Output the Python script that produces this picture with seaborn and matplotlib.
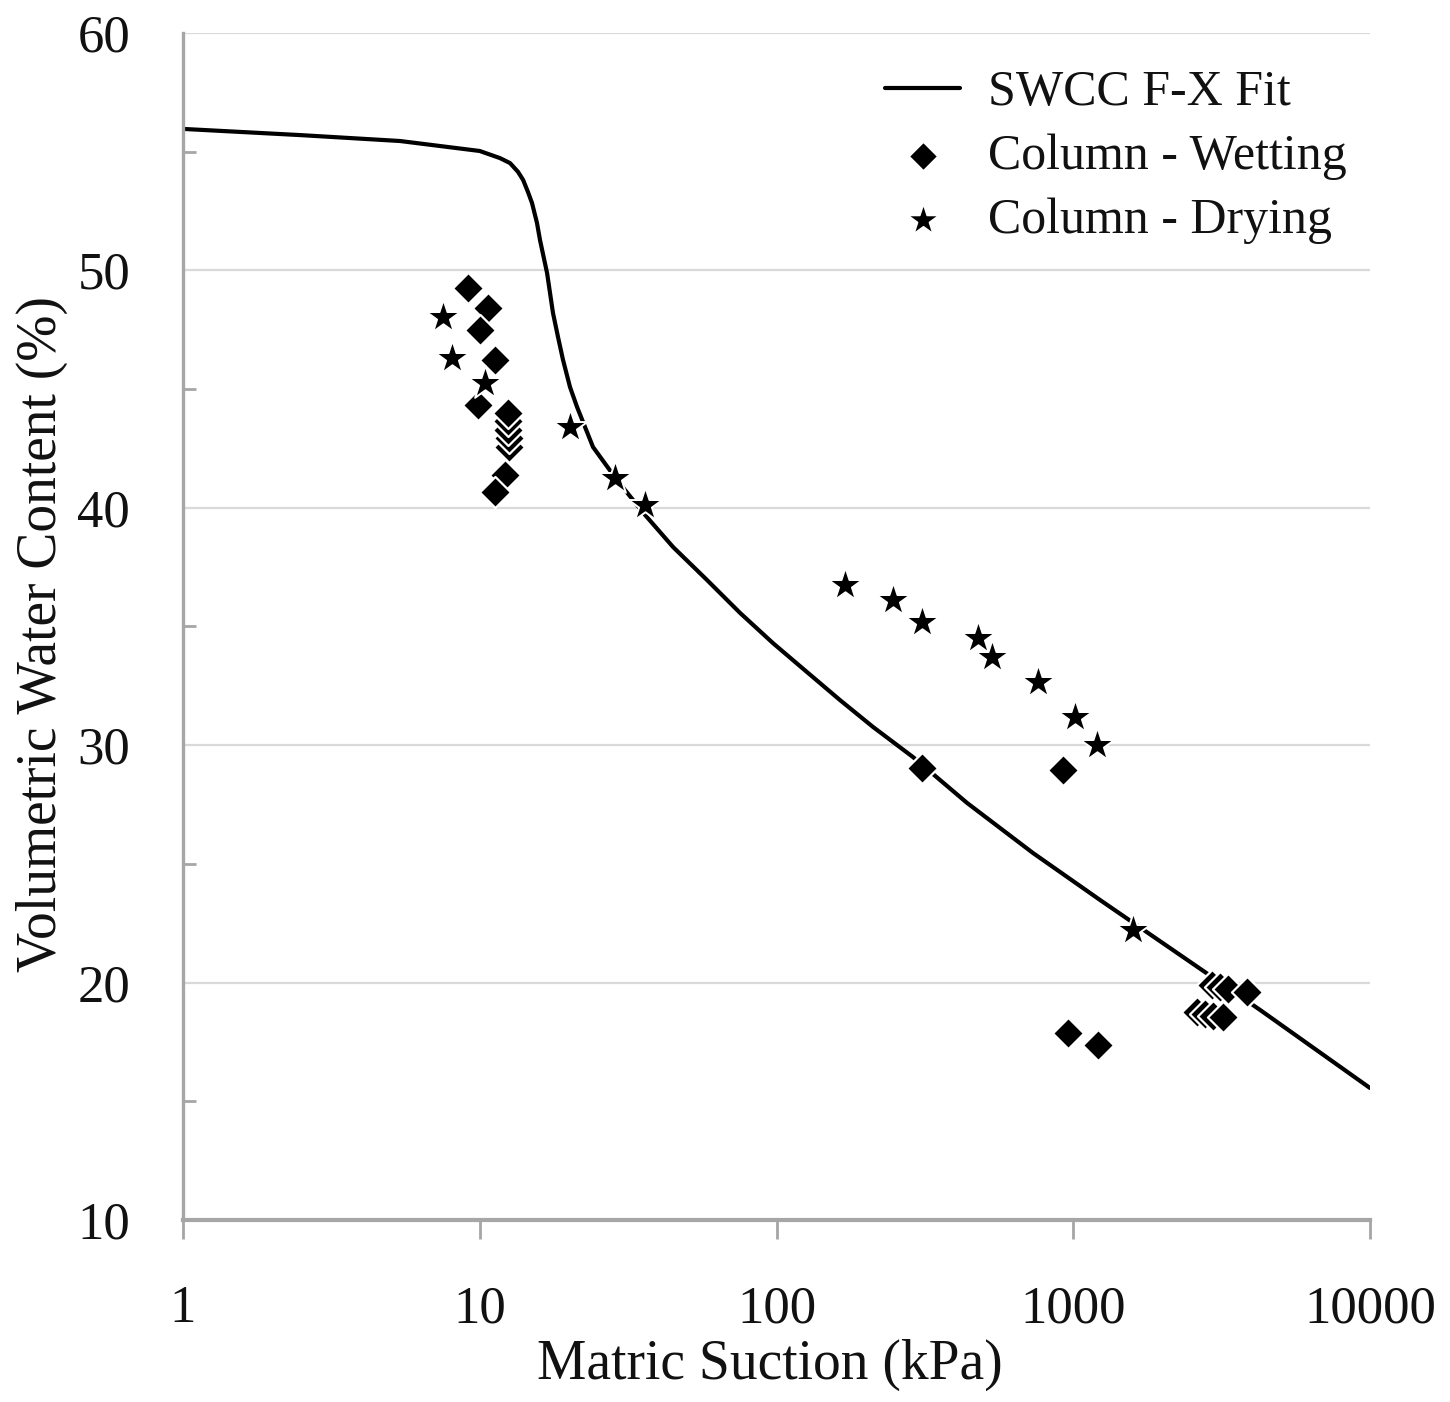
import numpy as np
import pandas as pd
import matplotlib
matplotlib.use("Agg")
import matplotlib.pyplot as plt
import seaborn as sns
from matplotlib.ticker import FixedLocator, NullFormatter

# ---------------- data ----------------
fit_x = [1.0, 2.48, 5.39, 10.0, 11.70, 12.65, 13.46, 14.0, 14.54, 15.0, 15.59,
         15.96, 16.86, 17.65, 18.35, 19.08, 20.14, 21.27, 24.08, 29.0, 36.06,
         44.8, 58.3, 75.4, 97.3, 126.7, 163.7, 211.4, 288.4, 438.5, 731.5,
         1231, 2168, 4260, 10000]
fit_y = [55.96, 55.70, 55.45, 55.03, 54.73, 54.52, 54.15, 53.81, 53.30, 52.84,
         52.00, 51.28, 49.89, 48.21, 47.20, 46.23, 45.09, 44.25, 42.56, 41.17,
         39.70, 38.35, 36.96, 35.57, 34.30, 33.08, 31.90, 30.77, 29.50, 27.57,
         25.46, 23.48, 21.37, 18.85, 15.56]

wet_x = [9.13, 10.66, 10.0, 11.25, 9.85,
         12.5, 12.5, 12.45, 12.45, 12.45,
         12.17, 11.25,
         309, 924, 960, 1211,
         2612, 2780, 2958, 3198,
         2935, 3124, 3324, 3849]
wet_y = [49.26, 48.42, 47.49, 46.23, 44.33,
         42.56, 42.94, 43.28, 43.66, 43.99,
         41.38, 40.67,
         29.04, 28.96, 17.88, 17.37,
         18.76, 18.68, 18.59, 18.55,
         19.90, 19.81, 19.73, 19.60]

dry_x = [7.52, 8.06, 10.42, 20.1, 28.6, 36.0, 170, 247, 309, 477, 532, 760,
         1014, 1203, 1589]
dry_y = [48.04, 46.31, 45.26, 43.40, 41.26, 40.12, 36.75, 36.12, 35.19, 34.52,
         33.72, 32.66, 31.19, 30.01, 22.22]

x_ticks = [1, 10, 100, 1000, 10000]
x_tick_labels = ["1", "10", "100", "1000", "10000"]
y_ticks = [10, 20, 30, 40, 50, 60]
y_minor = [15, 25, 35, 45, 55]

labels = ["SWCC F-X Fit", "Column - Wetting", "Column - Drying"]
x_title = "Matric Suction (kPa)"
y_title = "Volumetric Water Content (%)"

# ---------------- style ----------------
sns.set_theme(style="white")
plt.rcParams["font.family"] = ["Liberation Serif", "DejaVu Serif"]

fig = plt.figure(figsize=(14.5, 14.02), dpi=100)
ax = fig.add_axes([183 / 1450, 1 - 1220 / 1402, (1370 - 183) / 1450, (1220 - 33) / 1402])

fit_df = pd.DataFrame({"x": fit_x, "y": fit_y})
wet_df = pd.DataFrame({"x": wet_x, "y": wet_y})
dry_df = pd.DataFrame({"x": dry_x, "y": dry_y})

sns.lineplot(data=fit_df, x="x", y="y", ax=ax, color="black", lw=3.0,
             sort=False, estimator=None, label=labels[0], zorder=2)
sns.scatterplot(data=wet_df, x="x", y="y", ax=ax, marker="D", s=250,
                color="black", edgecolor="white", linewidth=1.6,
                label=labels[1], zorder=3)
sns.scatterplot(data=dry_df, x="x", y="y", ax=ax, marker="*", s=650,
                color="black", edgecolor="white", linewidth=1.4,
                label=labels[2], zorder=4)

ax.set_xscale("log")
ax.set_xlim(1, 10000)
ax.set_ylim(10, 60)

ax.xaxis.set_major_locator(FixedLocator(x_ticks))
ax.set_xticklabels(x_tick_labels)
ax.xaxis.set_minor_locator(FixedLocator([]))
ax.xaxis.set_minor_formatter(NullFormatter())
ax.yaxis.set_major_locator(FixedLocator(y_ticks))
ax.yaxis.set_minor_locator(FixedLocator(y_minor))

# horizontal grid lines only
ax.grid(False)
for v in y_ticks[1:]:
    ax.axhline(v, color="#d9d9d9", lw=1.6, zorder=0)

for side in ["top", "right"]:
    ax.spines[side].set_visible(False)
ax.spines["left"].set_color("#a6a6a6")
ax.spines["left"].set_linewidth(2.4)
ax.spines["bottom"].set_color("#a6a6a6")
ax.spines["bottom"].set_linewidth(3.0)

ax.tick_params(axis="x", which="major", direction="out", length=14, width=2,
               color="#a6a6a6", labelsize=38, pad=33, labelcolor="#111111",
               bottom=True)
ax.tick_params(axis="y", which="major", direction="in", length=0, width=2,
               color="#a6a6a6", labelsize=38, pad=38, labelcolor="#111111",
               left=True)
ax.tick_params(axis="y", which="minor", direction="in", length=9, width=2,
               color="#a6a6a6", left=True)

ax.set_xlabel(x_title, fontsize=40, color="#111111")
ax.set_ylabel(y_title, fontsize=40, color="#111111")
ax.xaxis.set_label_coords(0.4945, -0.1005)
ax.yaxis.set_label_coords(-0.097, 0.494)

handles, labs = ax.get_legend_handles_labels()
leg = ax.legend(handles, labs, loc="upper left",
                bbox_to_anchor=((885 - 183) / 1187, (1220 - 70) / 1187),
                frameon=False, fontsize=36, handlelength=1.5,
                handletextpad=0.55, labelspacing=0.35, borderpad=0,
                borderaxespad=0, markerscale=0.95)
for t in leg.get_texts():
    t.set_color("#111111")

fig.savefig("out.png", dpi=100, facecolor="white")
